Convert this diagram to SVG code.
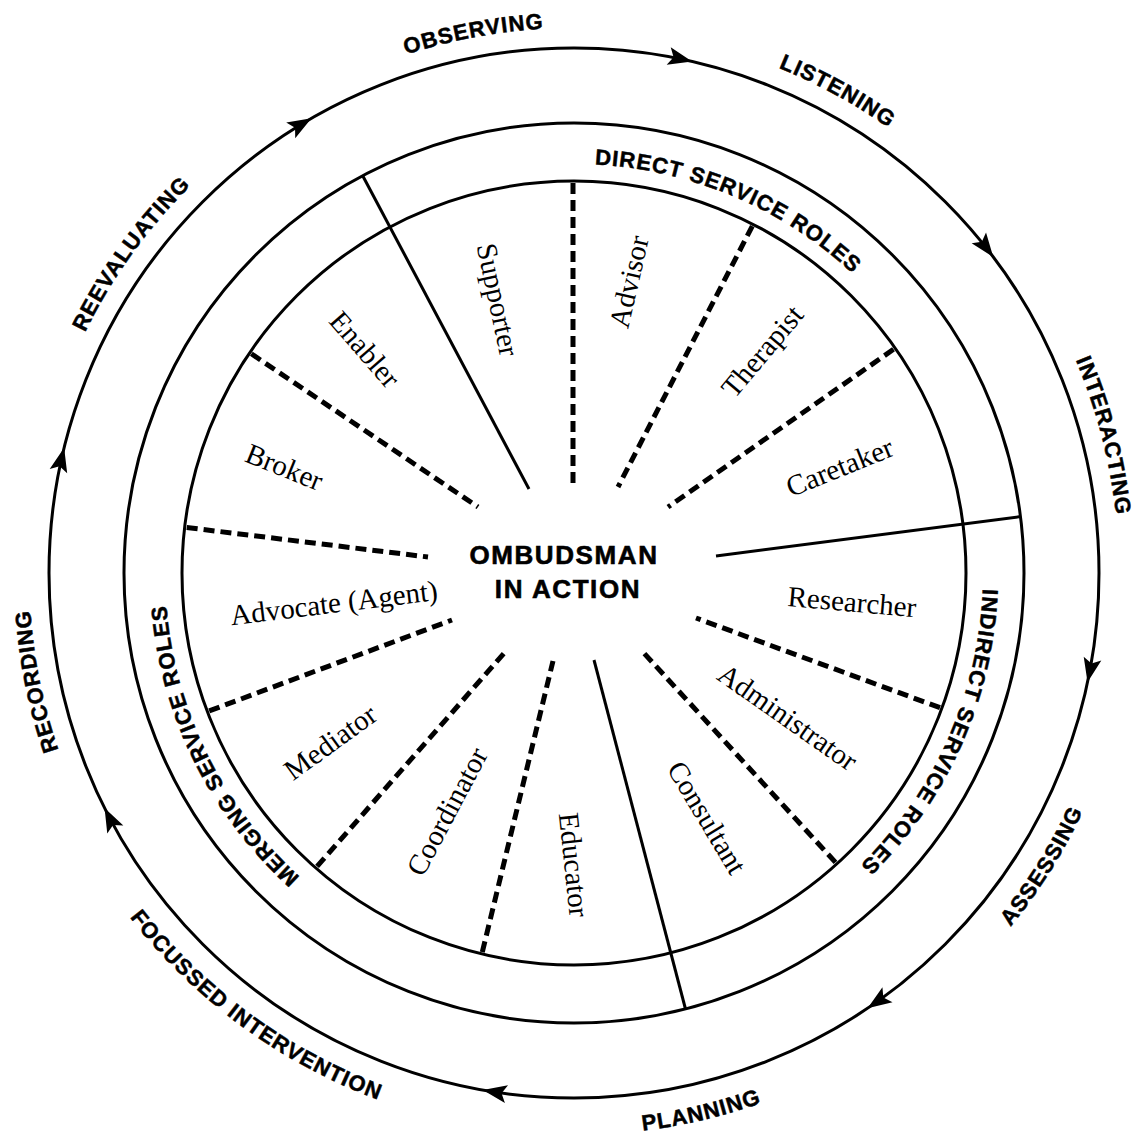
<svg xmlns="http://www.w3.org/2000/svg" width="1139" height="1136" viewBox="0 0 1139 1136">
<style>
.ring{fill:none;stroke:#000;stroke-width:3}
.solid{fill:none;stroke:#000;stroke-width:3}
.dash{fill:none;stroke:#000;stroke-width:5;stroke-dasharray:11 6}
.cap{font-family:"Liberation Sans",Arial,sans-serif;font-weight:bold;font-size:22px;letter-spacing:1px;fill:#000;stroke:#000;stroke-width:0.5}
.mid{font-family:"Liberation Sans",Arial,sans-serif;font-weight:bold;font-size:26px;letter-spacing:1.6px;fill:#000;stroke:#000;stroke-width:0.6}
.role{font-family:"Liberation Serif","Times New Roman",serif;font-size:29px;fill:#000}
.ah{fill:#000}
</style>
<defs>
<path id="cwOuter" d="M574,1118 A545,545 0 1 1 574,28 A545,545 0 1 1 574,1118"/>
<path id="ccwOuter" d="M574,11 A562,562 0 1 0 574,1135 A562,562 0 1 0 574,11"/>
<path id="cwRing" d="M574,982 A409,409 0 1 1 574,164 A409,409 0 1 1 574,982"/>
<polygon id="ahead" points="574,48 550,39 555,48 550,57"/>
</defs>
<rect width="1139" height="1136" fill="#fff"/>

<g id="connectors">
  <circle class="ring" cx="574" cy="573" r="525"/>
  <use href="#ahead" class="ah" transform="rotate(13 574 573)"/>
  <use href="#ahead" class="ah" transform="rotate(53 574 573)"/>
  <use href="#ahead" class="ah" transform="rotate(102 574 573)"/>
  <use href="#ahead" class="ah" transform="rotate(146 574 573)"/>
  <use href="#ahead" class="ah" transform="rotate(190 574 573)"/>
  <use href="#ahead" class="ah" transform="rotate(243.4 574 573)"/>
  <use href="#ahead" class="ah" transform="rotate(283.8 574 573)"/>
  <use href="#ahead" class="ah" transform="rotate(330 574 573)"/>
</g>

<g id="wheel">
  <circle class="ring" cx="574" cy="573" r="450"/>
  <circle class="ring" cx="574" cy="573" r="392"/>
  <line class="solid" x1="529" y1="489" x2="362.7" y2="175.7"/>
  <line class="solid" x1="716" y1="556" x2="1020.5" y2="516.6"/>
  <line class="solid" x1="594" y1="660" x2="685.5" y2="1009"/>
  <line class="dash" x1="573" y1="183" x2="573" y2="485"/>
  <line class="dash" x1="752.3" y1="226.1" x2="618" y2="487"/>
  <line class="dash" x1="893.5" y1="349.3" x2="668" y2="507"/>
  <line class="dash" x1="940" y1="707.7" x2="696" y2="618"/>
  <line class="dash" x1="835.5" y1="862.4" x2="642" y2="651"/>
  <line class="dash" x1="482.3" y1="952.1" x2="553" y2="661"/>
  <line class="dash" x1="317.1" y1="866.4" x2="506" y2="651"/>
  <line class="dash" x1="209.2" y1="710.9" x2="452" y2="620"/>
  <line class="dash" x1="186.7" y1="527.5" x2="428" y2="557"/>
  <line class="dash" x1="251.4" y1="353.8" x2="478" y2="507"/>
</g>

<g id="stage-observing"><text class="cap"><textPath href="#cwOuter" startOffset="47.07%" text-anchor="middle">OBSERVING</textPath></text></g>
<g id="stage-listening"><text class="cap"><textPath href="#cwOuter" startOffset="57.97%" text-anchor="middle">LISTENING</textPath></text></g>
<g id="stage-interacting"><text class="cap"><textPath href="#cwOuter" startOffset="70.97%" text-anchor="middle">INTERACTING</textPath></text></g>
<g id="stage-assessing"><text class="cap"><textPath href="#ccwOuter" startOffset="66.10%" text-anchor="middle">ASSESSING</textPath></text></g>
<g id="stage-planning"><text class="cap"><textPath href="#ccwOuter" startOffset="53.69%" text-anchor="middle">PLANNING</textPath></text></g>
<g id="stage-focussed"><text class="cap"><textPath href="#ccwOuter" startOffset="39.92%" text-anchor="middle">FOCUSSED INTERVENTION</textPath></text></g>
<g id="stage-recording"><text class="cap"><textPath href="#cwOuter" startOffset="21.83%" text-anchor="middle">RECORDING</textPath></text></g>
<g id="stage-reevaluating"><text class="cap"><textPath href="#cwOuter" startOffset="34.94%" text-anchor="middle">REEVALUATING</textPath></text></g>

<g id="sector-direct"><text class="cap"><textPath href="#cwRing" startOffset="56.38%" text-anchor="middle">DIRECT SERVICE ROLES</textPath></text></g>
<g id="sector-indirect"><text class="cap"><textPath href="#cwRing" startOffset="81.66%" text-anchor="middle">INDIRECT SERVICE ROLES</textPath></text></g>
<g id="sector-merging"><text class="cap"><textPath href="#cwRing" startOffset="17.72%" text-anchor="middle">MERGING SERVICE ROLES</textPath></text></g>

<g id="center">
  <text class="mid" x="564" y="564" text-anchor="middle">OMBUDSMAN</text>
  <text class="mid" x="568" y="598" text-anchor="middle">IN ACTION</text>
</g>

<g id="role-supporter"><text class="role" text-anchor="middle" dy="0.3em" transform="translate(497 300) rotate(78)">Supporter</text></g>
<g id="role-advisor"><text class="role" text-anchor="middle" dy="0.3em" transform="translate(630 282) rotate(-77)">Advisor</text></g>
<g id="role-therapist"><text class="role" text-anchor="middle" dy="0.3em" transform="translate(763 352) rotate(-50)">Therapist</text></g>
<g id="role-caretaker"><text class="role" text-anchor="middle" dy="0.3em" transform="translate(840 468) rotate(-22)">Caretaker</text></g>
<g id="role-researcher"><text class="role" text-anchor="middle" dy="0.3em" transform="translate(852 603) rotate(5)">Researcher</text></g>
<g id="role-administrator"><text class="role" text-anchor="middle" dy="0.3em" transform="translate(787 718) rotate(35)">Administrator</text></g>
<g id="role-consultant"><text class="role" text-anchor="middle" dy="0.3em" transform="translate(706 818) rotate(59)">Consultant</text></g>
<g id="role-educator"><text class="role" text-anchor="middle" dy="0.3em" transform="translate(573 865) rotate(84)">Educator</text></g>
<g id="role-coordinator"><text class="role" text-anchor="middle" dy="0.3em" transform="translate(448 812) rotate(-62)">Coordinator</text></g>
<g id="role-mediator"><text class="role" text-anchor="middle" dy="0.3em" transform="translate(331 743) rotate(-36)">Mediator</text></g>
<g id="role-advocate"><text class="role" text-anchor="middle" dy="0.3em" transform="translate(334 604) rotate(-7)">Advocate (Agent)</text></g>
<g id="role-broker"><text class="role" text-anchor="middle" dy="0.3em" transform="translate(284 468) rotate(22)">Broker</text></g>
<g id="role-enabler"><text class="role" text-anchor="middle" dy="0.3em" transform="translate(364 350) rotate(49)">Enabler</text></g>
</svg>
